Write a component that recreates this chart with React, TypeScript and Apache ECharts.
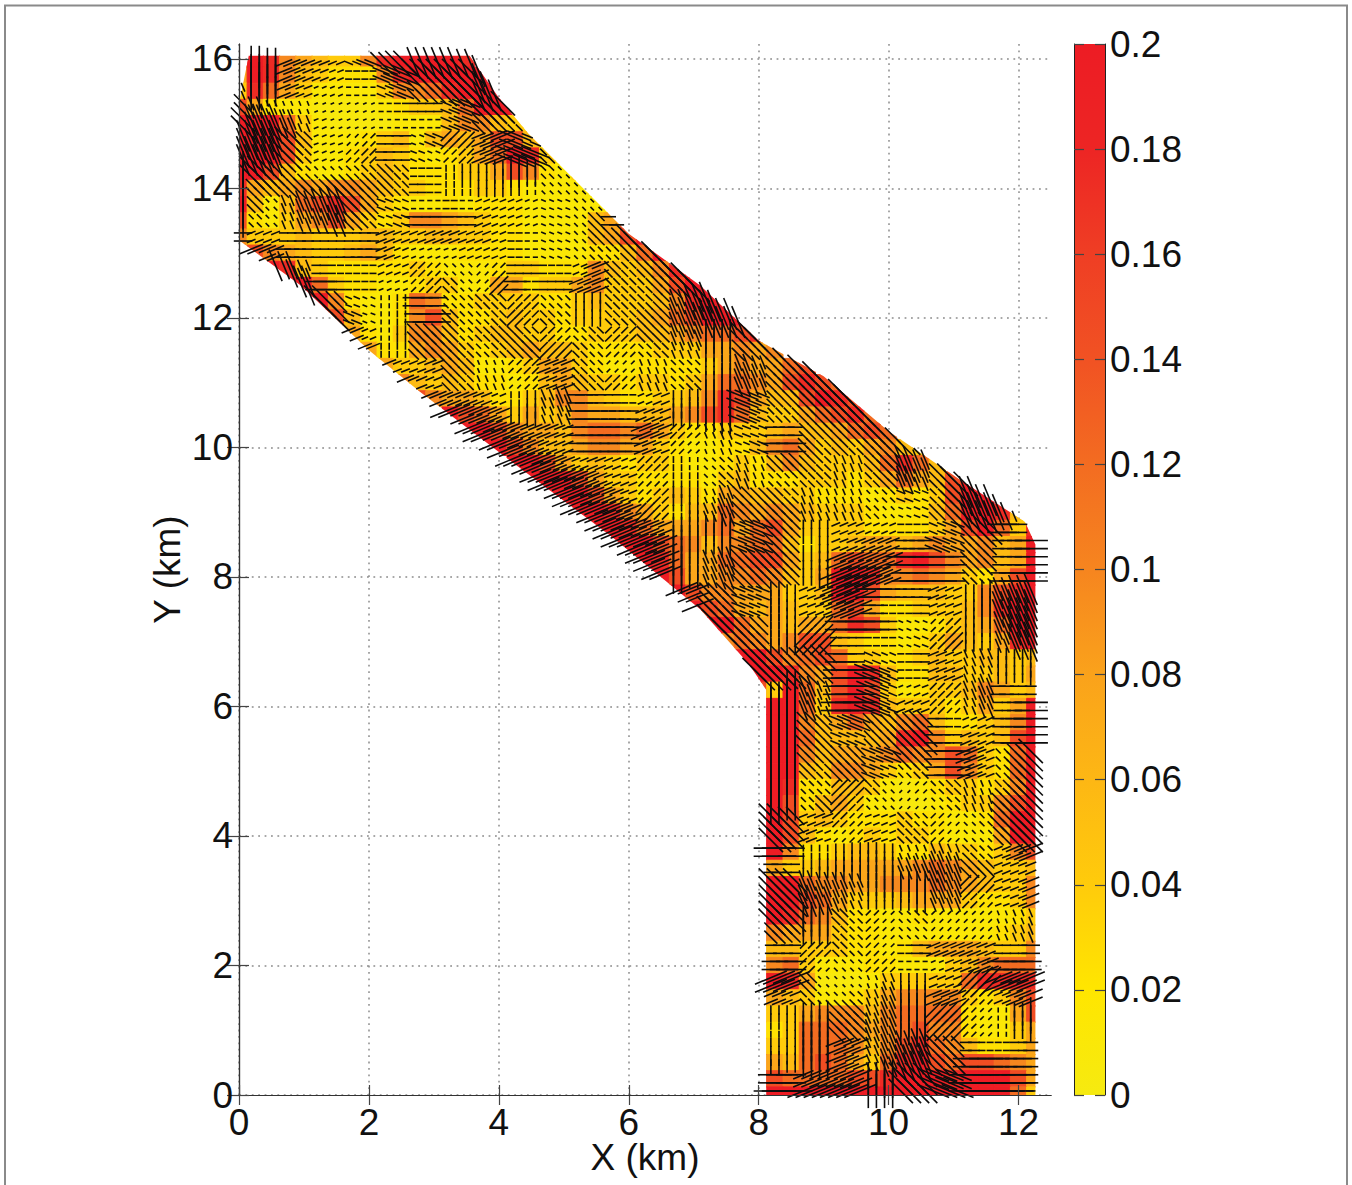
import React, { useEffect, useRef } from "react";
import * as echarts from "echarts";

const xTicks = [0, 2, 4, 6, 8, 10, 12];
const yTicks = [0, 2, 4, 6, 8, 10, 12, 14, 16];
const barTicks = [0, 0.02, 0.04, 0.06, 0.08, 0.1, 0.12, 0.14, 0.16, 0.18, 0.2];
const barStops = ["#F6EA10", "#FFE600", "#FFCB0B", "#FDB714", "#FAA21B", "#F6851F", "#F36C21", "#F15223", "#EF3E24", "#ED2524", "#ED1C24"];

// Domain outline (km).
const outline: number[][] = [
  [0.15, 16.05], [3.55, 16.05], [4.0, 15.4], [4.45, 14.85], [4.9, 14.4], [6.0, 13.3], [7.1, 12.5], [8.0, 11.65],
  [9, 11.1], [10, 10.25], [11.1, 9.5], [12.1, 8.85], [12.26, 8.5], [12.26, 0], [8.12, 0], [8.12, 6.25], [7.85, 6.65],
  [7.1, 7.5], [5.7, 8.65], [4.3, 9.7], [2.8, 10.85], [2, 11.5], [0.95, 12.5], [0, 13.2], [0, 15.3],
];

// Magnitude levels picked by the digits of magRows.
const magLevels = [0.004, 0.012, 0.024, 0.04, 0.056, 0.076, 0.098, 0.12, 0.145, 0.175, 0.2];
// Magnitude: one hex digit per 0.25 km cell, rows from y=16 down to y=0.
const magStarts = [0,0,0,0,0,0,0,0,0,0,0,0,1,2,3,4,5,7,8,9,10,11,13,14,15,17,18,19,21,22,23,24,26,27,28,29,30,31,31,
  32,32,32,32,32,32,32,32,32,32,32,32,32,32,32,32,32,32,32,32,32,32,32,32,32,32];
const magRows = [
  "8a96543369aaaa9",
  "5a964322269aaaaa",
  "39753111136679aaa",
  "852110000123347aaa",
  "aaa7310000111466433",
  "aaa84111234145458842",
  "aaa83112343212357a932",
  "aa84211234322233586213",
  "95456566543322233211111",
  "a41478985321121222111111",
  "8213568532366543221111458",
  "6333433344334433221111458a",
  "8654334542111222211112247a",
  "a9432222232111233222643469a",
  "aa73221123311552335633358aa",
  "aa62112762233332234333469aa",
  "984112684223433233334578aaa",
  "52136642344332233344567789",
  "52256532345443222233355656",
  "533454112355321122223565578",
  "6434322124543323323577658987",
  "8655422346643223346985448a98",
  "a87535346554445689743357897",
  "aa8655467767532233345445787",
  "aa86445665532112246753435643",
  "aa8534323321123246433347974",
  "aaa853322221342223332357548a",
  "aaa85323432554433222123238aa",
  "aa9653244765654333211247aa94",
  "aa9755567578533332222358a739",
  "aaa87646677423345545655645a",
  "aa9755778853478779a865645a",
  "a8556676435aa9667653258a",
  "a866555334aa8544433689a",
  "a8754543378522333469aa",
  "aa75545579831123457aa",
  "6765688432212354359a",
  "aa86787332234334434",
  "aaa9658a94224433435",
  "83a748a83123346534",
  "aaa739a9433323535a",
  "aaa64575467422346a",
  "aaa7444459a634348a",
  "aaa64555676687327a",
  "aaa43665323586327a",
  "aa922443101233236a",
  "aa824531100123368a",
  "aa83432223221127aa",
  "aa84212323321115aa",
  "aa6223443224332368",
  "653345555567654334",
  "aaa766556667654336",
  "aaa875333455532236",
  "aa9764221121111123",
  "865553221111111234",
  "444333221245554336",
  "567311122111346777",
  "9a9500013333379999",
  "654311235666632368",
  "433566646777721158",
  "423777656786621135",
  "533777646897642235",
  "7547875379a8788765",
  "987777889aaa9aaa85",
  "aaaaaaaaaaaaaaaa73",
];

// Vector orientation: one digit per 0.5 km block (digit x 22.5 degrees), rows from y=16 down to y=0.
const dirStarts = [0,0,0,0,0,0,0,2,3,4,5,7,8,10,11,12,13,14,15,16,16,16,16,16,16,16,16,16,16,16,16,16,16];
const dirRows = [
  "44117655", "541107665", "6551100766", "55612072176", "466666044466", "4655670011760", "0100011110766",
  "500126200166", "6740662646655", "1466662626546", "11652162564566", "1145001447666", "1110012570666",
  "1112465665656", "1124566556765", "1144764110760", "145664110060", "16741100145", "6642007245",
  "666070154", "445071250", "446766010", "446676016", "446262656", "461216266", "404445561", "665544521",
  "664626225", "002620110", "116654121", "644654224", "644155600", "601146700",
];

const inside = (x: number, y: number) => {
  let hit = false;
  for (let i = 0, j = outline.length - 1; i < outline.length; j = i++) {
    const [xi, yi] = outline[i];
    const [xj, yj] = outline[j];
    if (yi > y !== yj > y && x < ((xj - xi) * (y - yi)) / (yj - yi) + xi) hit = !hit;
  }
  return hit;
};

const colorOf = (v: number) => echarts.color.lerp(Math.min(1, v / 0.2), barStops) as string;

const cells: number[][] = [];
const arrows: number[][] = [];
magRows.forEach((row, r) => {
  const y = 16 - r * 0.25;
  row.split("").forEach((ch, k) => {
    const c = magStarts[r] + k;
    const x = c * 0.25;
    const v = magLevels[parseInt(ch, 16)];
    cells.push([x, y, v]);
    const dr = Math.min(dirRows.length - 1, Math.round((16 - y) / 0.5));
    const dRow = dirRows[dr];
    const di = Math.max(0, Math.min(dRow.length - 1, Math.round(x / 0.5) - dirStarts[dr]));
    const deg = parseInt(dRow[di], 10) * 22.5;
    [-0.0625, 0.0625].forEach((ox) =>
      [-0.0625, 0.0625].forEach((oy) => {
        if (inside(x + ox, y + oy)) arrows.push([x + ox, y + oy, v, deg]);
      })
    );
  });
});

const FONT = "Liberation Sans";
const TXT = "#111";

export default function App() {
  const ref = useRef<HTMLDivElement>(null);
  useEffect(() => {
    document.body.style.margin = "0";
    document.body.style.background = "#fff";
    const chart = echarts.init(ref.current!, undefined, { renderer: "svg" });
    const axisLine = { show: true, lineStyle: { color: "#333", width: 1.2 } };
    const tick = (len: number) => ({ show: true, inside: true, length: len, lineStyle: { color: "#444", width: 1.2 } });
    const label = { color: TXT, fontFamily: FONT, fontSize: 37 };
    const grid = { show: true, lineStyle: { color: "#8c8c8c", width: 1.5, type: [1.8, 4.6] } };
    chart.setOption({
      animation: false,
      backgroundColor: "#fff",
      graphic: [
        { type: "polyline", shape: { points: [[5, 1185], [5, 5.5], [1347, 5.5], [1347, 1185]] }, style: { stroke: "#8a8a8a", lineWidth: 2, fill: "none" }, silent: true },
      ],
      grid: [
        { left: 239, top: 44, width: 812, height: 1051, outerBoundsMode: "none" },
        { left: 1074, top: 44, width: 31, height: 1051, outerBoundsMode: "none" },
      ],
      xAxis: [
        {
          type: "value", gridIndex: 0, position: "bottom", min: 0, max: 12.5, z: 10,
          axisLine, axisTick: { ...tick(10), customValues: xTicks },
          axisLabel: { ...label, lineHeight: 30, margin: 12, customValues: xTicks }, splitLine: { show: false },
          name: "X (km)", nameLocation: "middle", nameGap: 47, nameMoveOverlap: false, nameTextStyle: { ...label, lineHeight: 30 },
        },
        {
          type: "value", gridIndex: 0, position: "top", min: 0, max: 12.5,
          axisLine, axisTick: { ...tick(10), customValues: xTicks },
          axisLabel: { show: false, customValues: xTicks }, splitLine: grid,
        },
        { type: "category", gridIndex: 1, data: ["scale"], show: false },
      ],
      yAxis: [
        {
          type: "value", gridIndex: 0, position: "left", min: 0, max: 16.23, z: 10,
          axisLine, axisTick: { ...tick(10), customValues: yTicks },
          axisLabel: { ...label, margin: 6, customValues: yTicks }, splitLine: { show: false },
          name: "Y (km)", nameLocation: "middle", nameGap: 53, nameMoveOverlap: false, nameTextStyle: { ...label },
        },
        {
          type: "value", gridIndex: 0, position: "right", min: 0, max: 16.23,
          axisLine, axisTick: { ...tick(12), customValues: yTicks },
          axisLabel: { show: false, customValues: yTicks }, splitLine: grid,
        },
        {
          type: "value", gridIndex: 1, position: "right", min: 0, max: 0.2, z: 10,
          axisLine: { show: true, lineStyle: { color: "#222", width: 1 } },
          axisTick: { ...tick(10), customValues: barTicks },
          axisLabel: { ...label, margin: 5, customValues: barTicks, formatter: (v: number) => String(+v.toFixed(2)) },
          splitLine: { show: false },
        },
        {
          type: "value", gridIndex: 1, position: "left", min: 0, max: 0.2, z: 10,
          axisLine: { show: true, lineStyle: { color: "#222", width: 1 } },
          axisTick: { ...tick(10), customValues: barTicks },
          axisLabel: { show: false, customValues: barTicks }, splitLine: { show: false },
        },
      ],
      series: [
        {
          type: "custom", name: "magnitude", xAxisIndex: 0, yAxisIndex: 0, z: 2, silent: true, clip: true,
          encode: { x: 0, y: 1 }, data: cells,
          renderItem: (_: any, api: any) => {
            const x = api.value(0), y = api.value(1), v = api.value(2);
            const a = api.coord([x - 0.125, y + 0.125]);
            const b = api.coord([x + 0.125, y - 0.125]);
            const allIn = inside(x - 0.125, y - 0.125) && inside(x + 0.125, y - 0.125) && inside(x - 0.125, y + 0.125) && inside(x + 0.125, y + 0.125);
            const col = colorOf(v);
            const el: any = {
              type: "rect",
              shape: { x: a[0], y: a[1], width: b[0] - a[0], height: b[1] - a[1] },
              style: { fill: col, stroke: col, lineWidth: 1 },
            };
            if (!allIn) el.clipPath = { type: "polygon", shape: { points: outline.map((p) => api.coord(p)) } };
            return el;
          },
        },
        {
          type: "custom", name: "vectors", xAxisIndex: 0, yAxisIndex: 0, z: 3, silent: true, clip: true,
          encode: { x: 0, y: 1 }, data: arrows,
          renderItem: (_: any, api: any) => {
            const x = api.value(0), y = api.value(1), v = api.value(2), deg = api.value(3);
            const half = (0.05 + 2.4 * v) / 2;
            const dx = half * Math.cos((deg * Math.PI) / 180);
            const dy = half * Math.sin((deg * Math.PI) / 180);
            const p = api.coord([x - dx, y - dy]);
            const q = api.coord([x + dx, y + dy]);
            return { type: "line", shape: { x1: p[0], y1: p[1], x2: q[0], y2: q[1] }, style: { stroke: "#0d0d0d", lineWidth: 1.6 } };
          },
        },
        {
          type: "bar", name: "scale", xAxisIndex: 2, yAxisIndex: 2, barWidth: "100%", silent: true, data: [0.2],
          itemStyle: {
            color: new echarts.graphic.LinearGradient(0, 1, 0, 0, barStops.map((color, i) => ({ offset: i / (barStops.length - 1), color }))),
          },
        },
      ],
    });
    return () => chart.dispose();
  }, []);
  return <div ref={ref} style={{ width: 1352, height: 1185 }} />;
}
